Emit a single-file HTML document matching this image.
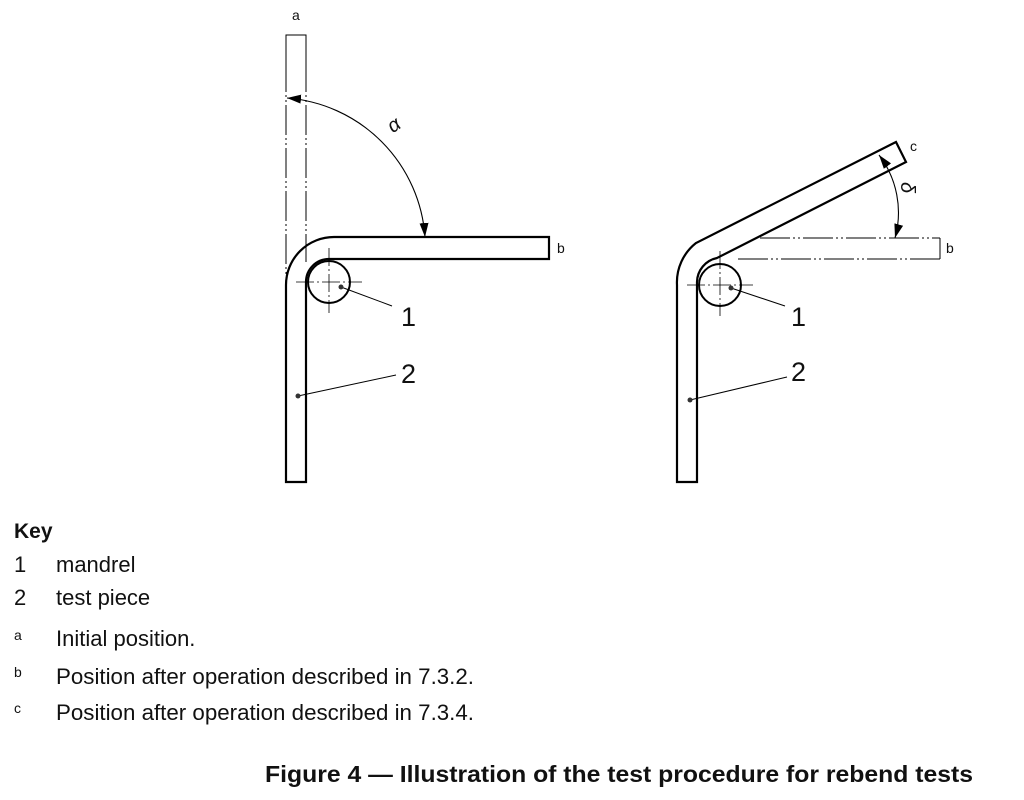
<!DOCTYPE html>
<html><head><meta charset="utf-8"><style>
html,body{margin:0;padding:0;background:#fff;}
svg{display:block;}
text{font-family:"Liberation Sans",Arial,sans-serif;fill:#111;}
</style></head><body>
<svg width="1024" height="800" viewBox="0 0 1024 800" xmlns="http://www.w3.org/2000/svg">
<defs>
<marker id="ah" viewBox="0 0 14 10" refX="14" refY="5" markerWidth="14" markerHeight="10" markerUnits="userSpaceOnUse" orient="auto-start-reverse">
<path d="M0,0.5 L14,5 L0,9.5 Z" fill="#000"/></marker>
</defs>
<g stroke="#000" fill="none">
<path d="M286,62 L286,35 L306,35 L306,62" stroke-width="1"/>
<path d="M286,62 L286,285 M306,62 L306,262" stroke-width="1" stroke-dasharray="30,3,2,3,2,3"/>
<path d="M286,482 L286,285 A48,48 0 0 1 334,237 L549,237 L549,259 L329,259 A23,23 0 0 0 306,282 L306,482 Z" stroke-width="2.2"/>
<circle cx="329" cy="282" r="21" stroke-width="2"/>
<path d="M296,282 L362,282 M329,248 L329,313" stroke-width="0.8" stroke-dasharray="18,3,2,3"/>
<path d="M287,98 A150,150 0 0 1 425,237" stroke-width="1.1" marker-start="url(#ah)" marker-end="url(#ah)"/>
<path d="M341,287 L392,306 M298,396 L396,375" stroke-width="1"/>
<path d="M677,482 L677,285 A50,50 0 0 1 696,243 L896,142 L906,162 L717,258 A25,25 0 0 0 697,282 L697,482 Z" stroke-width="2.2"/>
<path d="M760,238 L940,238 M738,259 L940,259" stroke-width="1" stroke-dasharray="30,3,2,3,2,3"/>
<path d="M940,238 L940,259" stroke-width="1"/>
<circle cx="720" cy="285" r="21" stroke-width="2"/>
<path d="M687,285 L753,285 M720,251 L720,316" stroke-width="0.8" stroke-dasharray="18,3,2,3"/>
<path d="M879,155 A95,95 0 0 1 895,238" stroke-width="1.1" marker-start="url(#ah)" marker-end="url(#ah)"/>
<path d="M731,288 L785,306 M690,400 L787,377" stroke-width="1"/>
</g>
<g fill="#333"><circle cx="341" cy="287" r="2.5"/><circle cx="298" cy="396" r="2.5"/><circle cx="731" cy="288" r="2.5"/><circle cx="690" cy="400" r="2.5"/></g>
<text x="292" y="20" font-size="14">a</text>
<text x="557" y="253" font-size="14">b</text>
<text x="946" y="253" font-size="14">b</text>
<text x="910" y="151" font-size="14">c</text>
<text x="388" y="130" font-size="20" font-style="italic" transform="rotate(-35 396 124)">α</text>
<text x="898" y="195" font-size="20" font-style="italic" transform="rotate(90 906 190)">δ</text>
<text x="401" y="326" font-size="27">1</text>
<text x="401" y="383" font-size="27">2</text>
<text x="791" y="326" font-size="27">1</text>
<text x="791" y="381" font-size="27">2</text>
<text x="14" y="538" font-size="21" font-weight="bold">Key</text>
<text x="14" y="572" font-size="22">1</text><text x="56" y="572" font-size="22">mandrel</text>
<text x="14" y="605" font-size="22">2</text><text x="56" y="605" font-size="22">test piece</text>
<text x="14" y="640" font-size="14">a</text><text x="56" y="646" font-size="22">Initial position.</text>
<text x="14" y="677" font-size="14">b</text><text x="56" y="684" font-size="22" textLength="418" lengthAdjust="spacingAndGlyphs">Position after operation described in 7.3.2.</text>
<text x="14" y="713" font-size="14">c</text><text x="56" y="720" font-size="22" textLength="418" lengthAdjust="spacingAndGlyphs">Position after operation described in 7.3.4.</text>
<text x="265" y="782" font-size="23" font-weight="bold" textLength="708" lengthAdjust="spacingAndGlyphs">Figure 4 — Illustration of the test procedure for rebend tests</text>
</svg>
</body></html>
